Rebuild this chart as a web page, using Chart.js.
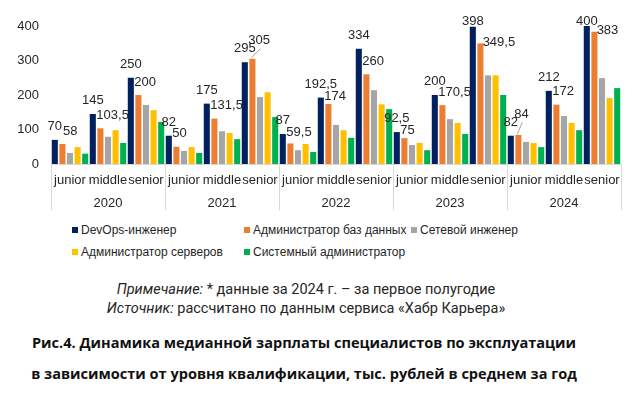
<!DOCTYPE html>
<html>
<head>
<meta charset="utf-8">
<script src="https://cdn.jsdelivr.net/npm/chart.js@4/dist/chart.umd.min.js"></script>
<style>
  html, body { margin:0; padding:0; background:#fff; }
  #wrap { position:relative; width:640px; height:400px; overflow:hidden; font-family:"Liberation Sans", Arial, sans-serif; color:#262626; }
  #c { position:absolute; left:0; top:0; }
  #legend { position:absolute; left:72px; top:222px; display:grid; grid-template-columns:172px 167px auto; row-gap:6px; font-size:12px; line-height:16px; }
  .li { display:flex; align-items:center; white-space:nowrap; }
  .sw { width:6px; height:6px; margin-right:3px; flex:none; }
  #notes { position:absolute; left:0; width:612px; top:280px; text-align:center; font-family:Roboto, "Liberation Sans", sans-serif; font-size:14.5px; line-height:19px; color:#262626; }
  #notes i { font-style:italic; }
  .cap { position:absolute; left:0; width:608px; text-align:center; font-family:"Open Sans", "Liberation Sans", sans-serif; font-weight:700; font-size:14.55px; line-height:20px; color:#111; white-space:nowrap; }
</style>
</head>
<body>
<div id="wrap">
  <canvas id="c" width="640" height="215"></canvas>
  <div id="legend"></div>
  <div id="notes"><i>Примечание:</i> * данные за 2024 г. – за первое полугодие<br><i>Источник:</i> рассчитано по данным сервиса «Хабр Карьера»</div>
  <div class="cap" style="top:332px">Рис.4. Динамика медианной зарплаты специалистов по эксплуатации</div>
  <div class="cap" style="top:363px">в зависимости от уровня квалификации, тыс. рублей в среднем за год</div>
</div>
<script>
const years = ['2020', '2021', '2022', '2023', '2024'];
const levels = ['junior', 'middle', 'senior'];
const seriesNames = ['DevOps-инженер', 'Администратор баз данных', 'Сетевой инженер', 'Администратор серверов', 'Системный администратор'];
const devops      = [70, 145, 250,  82, 175, 295,  87, 192.5, 334,  92.5, 200, 398,  82, 212, 400];
const dbAdmin     = [58, 103.5, 200, 50, 131.5, 305, 59.5, 174, 260, 75, 170.5, 349.5, 84, 172, 383];
const network     = [32, 79, 171,  38, 95, 194,  40, 113, 214,  55, 130, 257,  64, 139, 249];
const serverAdmin = [49, 98, 156,  49, 90, 208,  58, 98, 173,  61, 119, 257,  61, 119, 191];
const sysAdmin    = [30, 61, 122,  32, 72, 136,  35, 76, 159,  40, 87, 200,  49, 98, 220];
const yTicks = [0, 50, 100, 150, 200, 250, 300, 350, 400];

const colors = ['#002060', '#ED7D31', '#A5A5A5', '#FFC000', '#00B050'];
const seriesValues = [devops, dbAdmin, network, serverAdmin, sysAdmin];
const categories = [];
years.forEach(y => levels.forEach(l => categories.push(l)));

const FONT = '"Liberation Sans", Arial, sans-serif';
const TXT = '#262626';

const fmt = v => String(v).replace('.', ',');

const yearPlugin = {
  id: 'yearRow',
  afterDraw(chart) {
    const ctx = chart.ctx, xs = chart.scales.x;
    const n = categories.length;
    const cw = (xs.right - xs.left) / n;
    const top = chart.chartArea.bottom;
    ctx.save();
    ctx.strokeStyle = '#d9d9d9';
    ctx.lineWidth = 1;
    for (let g = 0; g <= years.length; g++) {
      const x = Math.round(xs.left + cw * levels.length * g) + 0.5;
      ctx.beginPath(); ctx.moveTo(x, top); ctx.lineTo(x, top + 46); ctx.stroke();
    }
    ctx.fillStyle = TXT;
    ctx.font = '13px ' + FONT;
    ctx.textAlign = 'center'; ctx.textBaseline = 'middle';
    years.forEach((yr, g) => {
      const x = xs.left + cw * levels.length * (g + 0.5);
      ctx.fillText(yr, x, top + 39);
    });
    ctx.restore();
  }
};

const labelPlugin = {
  id: 'barLabels',
  afterDatasetsDraw(chart) {
    const ctx = chart.ctx;
    ctx.save();
    ctx.font = '13px ' + FONT;
    ctx.fillStyle = TXT;
    ctx.textBaseline = 'middle';
    const m0 = chart.getDatasetMeta(0), m1 = chart.getDatasetMeta(1);
    const minY = chart.chartArea.top - 5;
    for (let i = 0; i < categories.length; i++) {
      const b0 = m0.data[i], b1 = m1.data[i];
      const t0 = fmt(devops[i]), t1 = fmt(dbAdmin[i]);
      const w0 = ctx.measureText(t0).width, w1 = ctx.measureText(t1).width;
      const clamped = (b0.y - 13.5) < minY;
      const y0 = clamped ? minY : b0.y - 13.5;
      const x0 = b0.x;
      ctx.textAlign = 'center';
      ctx.fillText(t0, x0, y0);
      let lx = b1.x - b1.width / 2 - 1;
      let y1 = Math.max(b1.y - 13, minY);
      const d0l = x0 - w0 / 2, d0r = x0 + w0 / 2;
      const hOverlap = lx < d0r && lx + w1 > d0l;
      let leader = false;
      if (hOverlap && Math.abs(y1 - y0) < 10) {
        const dy = y1 - y0;
        if (dy < 0) { y1 = y0 - 8; leader = true; }
        else if (clamped) { y1 = b1.y - 1.5; lx = Math.max(lx, d0r - 1); }
        else if (dy >= 6) { y1 = y0 + 12; }
        else { lx = d0r + 1; }
      }
      ctx.textAlign = 'left';
      ctx.fillText(t1, lx, y1);
      if (leader) {
        ctx.strokeStyle = '#a6a6a6';
        ctx.lineWidth = 1;
        ctx.beginPath();
        ctx.moveTo(b1.x - 1, b1.y - 1);
        ctx.lineTo(lx + w1 * 0.55, y1 + 8);
        ctx.stroke();
      }
    }
    ctx.restore();
  }
};

new Chart(document.getElementById('c'), {
  type: 'bar',
  data: {
    labels: categories,
    datasets: seriesNames.map((name, k) => ({
      label: name,
      data: seriesValues[k],
      backgroundColor: colors[k],
      borderWidth: 0,
      categoryPercentage: 1.0,
      barPercentage: 0.8
    }))
  },
  options: {
    responsive: false,
    devicePixelRatio: 1,
    animation: false,
    layout: { padding: { top: 26, right: 19, left: 0, bottom: 0 } },
    plugins: { legend: { display: false }, tooltip: { enabled: false } },
    scales: {
      x: {
        grid: { display: false, drawTicks: false },
        border: { display: true, color: '#d9d9d9' },
        ticks: { color: TXT, font: { size: 13, family: FONT }, padding: 9, maxRotation: 0, autoSkip: false },
        afterFit(s) { s.height = 51; }
      },
      y: {
        min: 0, max: 400,
        afterBuildTicks(s) { s.ticks = yTicks.map(v => ({ value: v })); },
        grid: { display: false, drawTicks: false },
        border: { display: false },
        ticks: { color: TXT, font: { size: 13, family: FONT }, padding: 12 },
        afterFit(s) { s.width = 51; }
      }
    }
  },
  plugins: [yearPlugin, labelPlugin]
});

const legend = document.getElementById('legend');
seriesNames.forEach((name, k) => {
  const d = document.createElement('div');
  d.className = 'li';
  d.innerHTML = '<span class="sw" style="background:' + colors[k] + '"></span><span>' + name + '</span>';
  legend.appendChild(d);
});
</script>
</body>
</html>
